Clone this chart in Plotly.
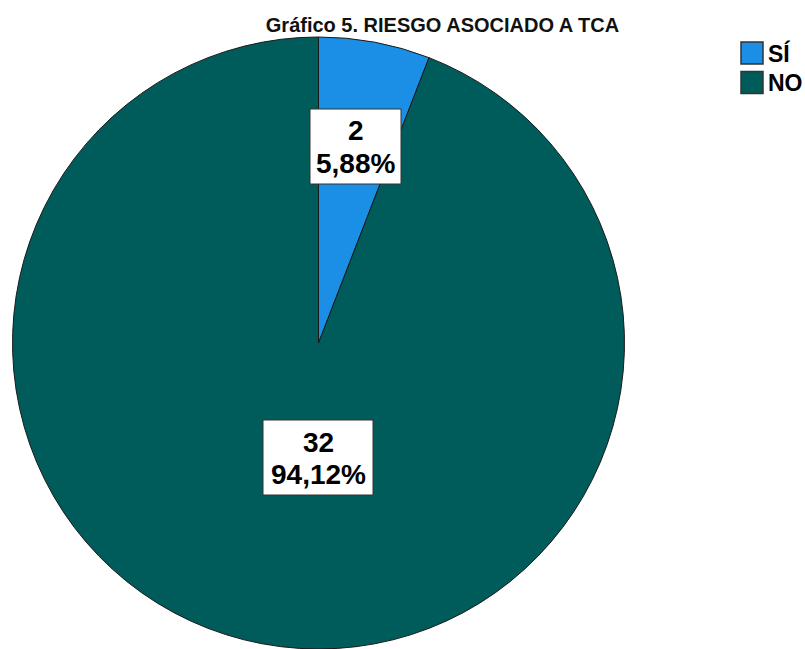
import plotly.graph_objects as go

# Survey result: risk associated with eating disorders (TCA)
categories = ["SÍ", "NO"]
counts = [2, 32]
colors = ["#1B8FE6", "#005C5B"]
title_text = "Gráfico 5. RIESGO ASOCIADO A TCA"

W, H = 805, 649
total = sum(counts)
FONT = "Liberation Sans, Arial"


def pct_label(n):
    return f"{n / total * 100:.2f}%".replace(".", ",")


def px(x):
    return x / W


def py(y):
    return 1 - y / H


fig = go.Figure()
fig.add_trace(go.Pie(
    labels=categories,
    values=counts,
    sort=False,
    direction="clockwise",
    rotation=0,
    marker=dict(colors=colors, line=dict(color="#1a1a1a", width=1)),
    textinfo="none",
    hoverinfo="label+value+percent",
    showlegend=False,
    domain=dict(x=[px(10), px(627)], y=[0, py(37)]),
))

# Boxed value labels for each slice: white box, count on top, percentage below
label_boxes = [
    dict(x0=310, x1=401, y0=109, y1=184),
    dict(x0=263, x1=373, y0=420, y1=495),
]
for n, box in zip(counts, label_boxes):
    fig.add_shape(
        type="rect", xref="paper", yref="paper",
        x0=px(box["x0"]), x1=px(box["x1"]),
        y0=py(box["y1"]), y1=py(box["y0"]),
        fillcolor="#ffffff", line=dict(color="#333333", width=1),
    )
    cx = (box["x0"] + box["x1"]) / 2
    for txt, yc in ((str(n), box["y0"] + 22), (pct_label(n), box["y0"] + 54)):
        fig.add_annotation(
            x=px(cx), y=py(yc), xref="paper", yref="paper",
            xanchor="center", yanchor="middle",
            text=f"<b>{txt}</b>", showarrow=False,
            font=dict(family=FONT, size=28, color="#000000"),
        )

# Legend drawn as swatches with bold labels
legend_rows = [53, 82.5]
for cat, col, yc in zip(categories, colors, legend_rows):
    fig.add_shape(
        type="rect", xref="paper", yref="paper",
        x0=px(741), x1=px(763), y0=py(yc - 11), y1=py(yc + 11),
        fillcolor=col, line=dict(color="#333333", width=1.5),
    )
    fig.add_annotation(
        x=px(766), y=py(yc), xref="paper", yref="paper",
        xanchor="left", yanchor="middle",
        text=f"<b>{cat}</b>", showarrow=False,
        font=dict(family=FONT, size=23, color="#000000"),
    )

fig.update_layout(
    width=W, height=H,
    margin=dict(l=0, r=0, t=0, b=0),
    paper_bgcolor="#ffffff",
    plot_bgcolor="#ffffff",
    title=dict(
        text=f"<b>{title_text}</b>",
        x=px(442.5), xref="paper", xanchor="center",
        y=py(25), yref="container", yanchor="middle",
        font=dict(family=FONT, size=20, color="#111111"),
    ),
)

fig.write_html("out.html")
